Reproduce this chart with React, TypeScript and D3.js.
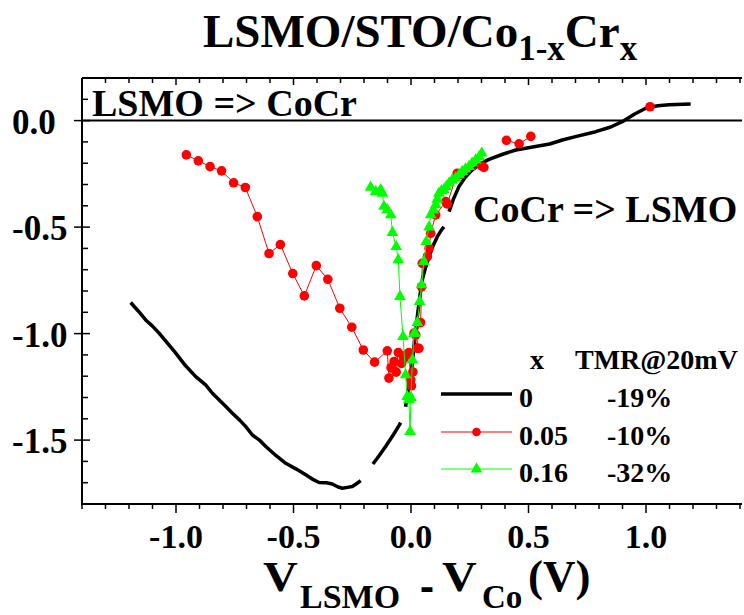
import React from "react";
import * as d3 from "d3";

type P = [number, number] | null;

const xTickLabels = ["-1.0", "-0.5", "0.0", "0.5", "1.0"];
const xTickValues = [-1.0, -0.5, 0.0, 0.5, 1.0];
const yTickLabels = ["0.0", "-0.5", "-1.0", "-1.5"];
const yTickValues = [0.0, -0.5, -1.0, -1.5];

const seriesNames = ["0", "0.05", "0.16"];
const seriesTMR = ["-19%", "-10%", "-32%"];

// x = 0 (black line; gaps as in the original trace)
const blackData: P[] = [
  [-1.193, -0.854], [-1.16, -0.895], [-1.129, -0.936], [-1.10, -0.965], [-1.072, -0.998],
  [-1.04, -1.04], [-1.001, -1.092], [-0.96, -1.15], [-0.916, -1.202], [-0.874, -1.241],
  [-0.845, -1.28], [-0.817, -1.311], [-0.79, -1.34], [-0.76, -1.374], [-0.73, -1.405],
  [-0.703, -1.437], [-0.675, -1.476], [-0.645, -1.5], [-0.618, -1.53], [-0.575, -1.572],
  [-0.533, -1.609], [-0.49, -1.635], [-0.448, -1.663], [-0.42, -1.683], [-0.391, -1.699],
  [-0.36, -1.7], [-0.335, -1.706], [-0.31, -1.72], [-0.292, -1.726], [-0.27, -1.722],
  [-0.25, -1.718], [-0.232, -1.705], [-0.214, -1.69],
  null,
  [-0.162, -1.612], [-0.135, -1.572], [-0.108, -1.53], [-0.075, -1.475], [-0.05, -1.43], [-0.044, -1.418],
  null,
  [-0.023, -1.343], [-0.01, -1.25], [0.006, -1.139], [0.015, -1.03], [0.027, -0.92], [0.037, -0.83],
  [0.048, -0.748], [0.062, -0.69], [0.077, -0.638], [0.095, -0.585], [0.112, -0.545], [0.126, -0.52],
  [0.14, -0.498],
  null,
  [0.162, -0.427], [0.18, -0.37], [0.204, -0.31], [0.23, -0.267], [0.261, -0.231], [0.3, -0.2],
  [0.332, -0.182], [0.39, -0.158], [0.446, -0.138], [0.53, -0.122], [0.59, -0.11], [0.644, -0.091],
  [0.7, -0.075], [0.786, -0.052], [0.85, -0.03], [0.899, -0.005], [0.95, 0.03], [0.999, 0.058],
  [1.05, 0.07], [1.098, 0.074], [1.19, 0.078],
];

// x = 0.05 (red circles)
const redData: P[] = [
  [-0.956, -0.161], [-0.905, -0.189], [-0.855, -0.216], [-0.806, -0.236], [-0.755, -0.292],
  [-0.705, -0.314], [-0.654, -0.451], [-0.604, -0.624], [-0.556, -0.582], [-0.503, -0.718],
  [-0.454, -0.823], [-0.403, -0.681], [-0.354, -0.745], [-0.303, -0.881], [-0.252, -0.97],
  [-0.203, -1.077], [-0.155, -1.134], [-0.101, -1.081], [-0.094, -1.209], [-0.085, -1.16],
  [-0.072, -1.131], [-0.063, -1.181], [-0.054, -1.089], [-0.04, -1.14], [-0.03, -1.116],
  [-0.02, -1.1], [-0.009, -1.089], [-0.001, -1.217], [0.002, -1.245], [0.008, -1.18],
  [0.013, -0.998], [0.027, -1.069], [0.034, -1.069], [0.02, -1.006], [0.041, -0.948],
  [0.045, -0.78], [0.048, -0.67], [0.07, -0.638], [0.077, -0.599], [0.084, -0.529],
  [0.105, -0.443], [0.148, -0.38], [0.154, -0.391], [0.197, -0.247], [0.204, -0.255],
  [0.301, -0.213], [0.31, -0.22],
  null,
  [0.406, -0.093], [0.46, -0.109], [0.51, -0.074],
  null,
  [1.017, 0.065],
];

// x = 0.16 (green triangles)
const greenData: P[] = [
  [-0.172, -0.313], [-0.15, -0.333], [-0.129, -0.325], [-0.122, -0.341], [-0.115, -0.403],
  [-0.101, -0.419], [-0.086, -0.443], [-0.079, -0.526], [-0.063, -0.592], [-0.054, -0.654],
  [-0.047, -0.826], [-0.034, -1.014], [-0.023, -1.194], [-0.016, -1.296], [-0.009, -1.311],
  [-0.004, -1.46], [0.0, -1.3], [0.006, -1.124], [0.013, -1.0], [0.017, -0.998],
  [0.027, -0.948], [0.037, -0.85], [0.045, -0.771], [0.055, -0.662], [0.065, -0.568],
  [0.077, -0.5], [0.084, -0.443], [0.095, -0.42], [0.105, -0.396], [0.112, -0.37],
  [0.119, -0.341], [0.13, -0.33], [0.14, -0.325], [0.15, -0.31], [0.162, -0.294],
  [0.175, -0.28], [0.19, -0.27], [0.205, -0.255], [0.218, -0.239], [0.232, -0.228],
  [0.247, -0.216], [0.26, -0.2], [0.275, -0.185], [0.29, -0.17], [0.301, -0.153],
];

const FONT = "'Liberation Serif', 'Times New Roman', serif";

const W = 744;
const H = 615;
const L = 82;
const R = 740;
const T = 78;
const B = 504;

export default function App() {
  const x = d3.scaleLinear().domain([-1.4, 1.4]).range([L, R]);
  const y = d3.scaleLinear().domain([-1.8, 0.2]).range([B, T]);

  const line = d3
    .line<P>()
    .defined((d) => d !== null)
    .x((d) => x((d as [number, number])[0]))
    .y((d) => y((d as [number, number])[1]));

  const xMinor = d3.range(-14, 15).map((i) => i / 10);
  const yMinor = d3.range(-18, 3).map((i) => i / 10);
  const isMajor = (v: number) => Math.abs(v * 2 - Math.round(v * 2)) < 1e-6;

  const tri = d3.symbol().type(d3.symbolTriangle).size(60)() as string;

  const pts = (arr: P[]) => arr.filter((d) => d !== null) as [number, number][];

  const legendX1 = 441;
  const legendX2 = 512;
  const legendRows = [394, 432, 469];

  return (
    <svg width={W} height={H} style={{ display: "block", position: "absolute", left: 0, top: 0 }} fontFamily={FONT} fontWeight="bold">
      <rect x={0} y={0} width={W} height={H} fill="#fff" />
      {/* title */}
      <text x={203} y={47} fontSize={47}>
        LSMO/STO/Co<tspan fontSize={35} dy={13}>1-x</tspan>
        <tspan dy={-13}>Cr</tspan>
        <tspan fontSize={35} dy={13}>x</tspan>
      </text>

      {/* frame */}
      <line x1={L} x2={L} y1={T} y2={B} stroke="#000" strokeWidth={2} />
      <line x1={L} x2={742} y1={T} y2={T} stroke="#000" strokeWidth={2} />
      <line x1={L - 1} x2={742} y1={B} y2={B} stroke="#000" strokeWidth={2} />
      <line x1={L} x2={742} y1={y(0)} y2={y(0)} stroke="#000" strokeWidth={2} />

      {/* x ticks */}
      {xMinor.map((v, i) => {
        const m = isMajor(v);
        return (
          <g key={"xt" + i}>
            <line x1={x(v)} x2={x(v)} y1={B} y2={B + (m ? 9 : 5)} stroke="#000" strokeWidth={1.5} />
            <line x1={x(v)} x2={x(v)} y1={T} y2={T + (m ? 7 : 5)} stroke="#000" strokeWidth={1.5} />
          </g>
        );
      })}
      {/* y ticks */}
      {yMinor.map((v, i) => {
        const m = isMajor(v);
        return (
          <line key={"yt" + i} x1={m ? L - 8 : L} x2={L + (m ? 8 : 6)} y1={y(v)} y2={y(v)} stroke="#000" strokeWidth={1.5} />
        );
      })}

      {xTickValues.map((v, i) => (
        <text key={"xl" + i} x={x(v)} y={548} fontSize={34} textAnchor="middle">
          {xTickLabels[i]}
        </text>
      ))}
      {yTickValues.map((v, i) => (
        <text key={"yl" + i} x={12} y={y(v) + 13} fontSize={35} textAnchor="start">
          {yTickLabels[i]}
        </text>
      ))}

      {/* axis title */}
      <text transform="translate(263,591) scale(1.12,1)" fontSize={43}>V</text>
      <text x={300} y={608} fontSize={34}>LSMO</text>
      <text transform="translate(420,603) scale(1.1,1.42)" fontSize={38}>-</text>
      <text transform="translate(442,591) scale(1.12,1)" fontSize={43}>V</text>
      <text x={482} y={608} fontSize={33}>Co</text>
      <text x={528} y={591} fontSize={45}>(V)</text>

      {/* annotations */}
      <text x={92} y={116} fontSize={38}>LSMO =&gt; CoCr</text>
      <text x={473} y={222} fontSize={38}>CoCr =&gt; LSMO</text>

      {/* series */}
      <path d={line(blackData) || ""} fill="none" stroke="#000" strokeWidth={3.5} strokeLinejoin="round" />

      <path d={line(redData) || ""} fill="none" stroke="#ff0000" strokeWidth={1} />
      {pts(redData).map((d, i) => (
        <circle key={"r" + i} cx={x(d[0])} cy={y(d[1])} r={4.8} fill="#ff0000" />
      ))}

      <path d={line(greenData) || ""} fill="none" stroke="#00ff00" strokeWidth={1} />
      {pts(greenData).map((d, i) => (
        <path key={"g" + i} d={tri} transform={`translate(${x(d[0])},${y(d[1])})`} fill="#00ff00" />
      ))}

      {/* legend */}
      <text x={530} y={369} fontSize={28}>x</text>
      <text x={575} y={369} fontSize={28}>TMR@20mV</text>
      <line x1={legendX1} x2={legendX2} y1={legendRows[0]} y2={legendRows[0]} stroke="#000" strokeWidth={3.5} />
      <line x1={legendX1} x2={legendX2} y1={legendRows[1]} y2={legendRows[1]} stroke="#ff0000" strokeWidth={1} />
      <circle cx={(legendX1 + legendX2) / 2} cy={legendRows[1]} r={4.3} fill="#ff0000" />
      <line x1={legendX1} x2={legendX2} y1={legendRows[2]} y2={legendRows[2]} stroke="#00ff00" strokeWidth={1} />
      <path d={tri} transform={`translate(${(legendX1 + legendX2) / 2},${legendRows[2]})`} fill="#00ff00" />
      {legendRows.map((ry, i) => (
        <g key={"lg" + i}>
          <text x={519} y={ry + 13} fontSize={28}>{seriesNames[i]}</text>
          <text x={607} y={ry + 13} fontSize={28}>{seriesTMR[i]}</text>
        </g>
      ))}
    </svg>
  );
}
